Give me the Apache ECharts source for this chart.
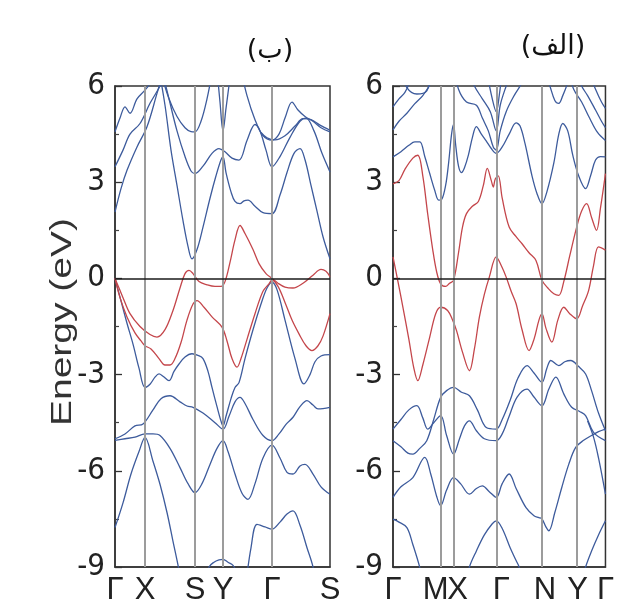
<!DOCTYPE html>
<html>
<head>
<meta charset="utf-8">
<script src="https://cdn.jsdelivr.net/npm/echarts@6/dist/echarts.min.js"></script>
<style>
  html, body { margin: 0; padding: 0; background: #fff; }
  #chart { width: 617px; height: 615px; }
</style>
</head>
<body>
<div id="chart"></div>
<script>
// k-path positions (left panel "ب", right panel "الف")
const leftTicks = [30, 80, 108, 157];
const leftLabelPos = [0, 30, 80, 108, 157, 215];
const leftLabels = ['Γ', 'X', 'S', 'Y', 'Γ', 'S'];
const rightTicks = [48, 61, 104, 150, 185];
const rightLabelPos = [0, 43, 65, 109, 153, 186, 214];
const rightLabels = ['Γ', 'M', 'X', 'Γ', 'N', 'Y', 'Γ'];
const energyTicks = [-9, -6, -3, 0, 3, 6];

// ---- left panel (ب) : conduction bands (blue)
const lC1 = [[0,2.07],[6,2.8],[12,3.37],[22,4.1],[32,4.73],[42,5.77],[48,6.4]];
const lC1b = [[44,6.5],[50,5.4],[56,4.0],[62,2.9],[68,1.8],[73,1.0],[77,0.61],[82,0.9],[88,1.6],[95,2.5],[101,3.2],[106,3.7],[108,3.8],[111,3.3],[116,2.7],[120,2.4],[125,2.33],[129,2.42],[133,2.44],[140,2.25],[148,2.05],[157,2.02],[165,2.6],[172,3.3],[179,3.9],[185,4.05],[190,3.7],[196,2.9],[202,2.1],[208,1.3],[215,0.61]];
const lC2 = [[0,3.48],[8,4.0],[15,4.5],[25,4.83],[35,5.46],[45,6.0],[50,6.4]];
const lC2b = [[47,6.5],[54,5.6],[62,4.6],[70,3.8],[76,3.35],[80,3.27],[88,3.5],[97,3.9],[104,4.05],[110,3.95],[117,3.75],[124,3.69],[132,4.3],[140,4.8],[145,4.6],[151,4.0],[157,3.48],[165,3.8],[175,4.4],[185,4.9],[191,5.0],[199,4.6],[207,3.9],[215,3.32]];
const lC3 = [[0,4.57],[5,5.0],[10,5.35],[15,5.15],[22,5.6],[30,5.87],[38,6.2],[42,6.5]];
const lC3b = [[45,6.5],[54,5.6],[62,5.05],[70,4.7],[76,4.58],[80,4.57],[86,4.9],[92,5.6],[97,6.4]];
const lC3c = [[102,6.5],[105,5.5],[108,4.6],[111,5.3],[116,6.5]];
const lC4 = [[126,6.5],[132,5.7],[140,4.95],[148,4.45],[157,4.31],[164,4.5],[170,5.0],[177,5.5],[183,5.25],[190,5.05],[198,4.9],[206,4.7],[215,4.57]];
const lC5 = [[146,4.55],[152,4.38],[160,4.32],[170,4.45],[180,4.75],[188,4.98],[196,4.95],[205,4.78],[215,4.62]];

// ---- left panel (ب) : bands near the Fermi level (red)
const lRA = [[0,0],[8,-0.6],[15,-1.1],[25,-1.5],[35,-1.75],[42,-1.83],[50,-1.6],[58,-1.0],[65,-0.3],[70,0.15],[74,0.25],[78,0.15],[84,-0.1],[92,-0.2],[100,-0.25],[106,-0.25],[110,-0.1],[115,0.5],[120,1.2],[125,1.65],[130,1.4],[138,0.9],[144,0.46],[151,0.15],[157,0],[163,-0.15],[170,-0.27],[178,-0.3],[188,-0.15],[198,0.1],[206,0.28],[211,0.22],[215,0.05]];
const lRB = [[0,0],[5,-0.6],[12,-1.2],[20,-1.7],[26,-1.95],[30,-2.1],[36,-2.2],[44,-2.5],[50,-2.7],[55,-2.7],[60,-2.5],[66,-2.0],[72,-1.3],[78,-0.8],[82,-0.69],[89,-0.9],[97,-1.2],[107,-1.52],[112,-1.95],[117,-2.5],[122,-2.77],[126,-2.5],[132,-1.9],[140,-1.1],[148,-0.4],[154,-0.17],[157,-0.05],[163,-0.25],[170,-0.75],[177,-1.3],[184,-1.73],[191,-2.1],[197,-2.25],[203,-2.1],[208,-1.8],[215,-1.1]];

// ---- left panel (ب) : valence bands (blue)
const lV1 = [[0,0],[6,-0.7],[12,-1.4],[18,-2.05],[24,-2.8],[30,-3.4],[35,-3.3],[40,-3.08],[44,-2.98],[48,-3.05],[54,-3.19],[59,-2.9],[64,-2.67],[70,-2.45],[77,-2.35],[83,-2.4],[88,-2.5],[93,-2.9],[97,-3.4],[102,-4.0],[106,-4.45],[108,-4.6],[111,-4.3],[116,-3.75],[120,-3.4],[124,-3.25],[130,-2.5],[138,-1.6],[146,-0.8],[152,-0.3],[157,-0.12],[162,-0.35],[170,-1.3],[180,-2.5],[189,-3.29],[195,-3.0],[200,-2.6],[206,-2.42],[215,-2.38]];
const lV2 = [[0,-5.0],[10,-4.85],[20,-4.6],[28,-4.54],[38,-4.1],[46,-3.75],[55,-3.66],[65,-3.85],[72,-3.98],[78,-4.02],[88,-4.2],[100,-4.5],[108,-4.7],[114,-4.3],[120,-3.85],[125,-3.71],[130,-3.9],[138,-4.4],[148,-4.9],[157,-5.06],[164,-4.85],[171,-4.55],[178,-4.33],[185,-4.0],[192,-3.81],[198,-3.95],[203,-4.07],[215,-4.02]];
const lV3 = [[0,-5.05],[10,-5.0],[20,-4.95],[30,-4.85],[38,-4.85],[45,-4.9],[55,-5.3],[65,-5.9],[73,-6.4],[80,-6.68],[87,-6.4],[95,-5.8],[102,-5.3],[108,-5.06],[113,-5.4],[120,-6.1],[127,-6.7],[133,-6.89],[140,-6.4],[148,-5.6],[157,-5.2],[165,-5.6],[172,-6.05],[178,-6.1],[185,-5.85],[190,-5.8],[198,-6.1],[206,-6.5],[215,-6.73]];
const lV4 = [[0,-7.77],[8,-7.0],[16,-6.1],[24,-5.4],[30,-4.96],[38,-5.7],[45,-6.42],[52,-7.3],[58,-8.2],[64,-9.1],[66,-9.5]];
const lV5 = [[90,-9.5],[94,-9.0],[99,-8.85],[104,-8.78],[108,-8.76],[113,-8.85],[118,-8.95],[122,-9.2],[124,-9.5]];
const lV6 = [[131,-9.5],[136,-8.4],[142,-7.67],[150,-7.75],[157,-7.82],[165,-7.6],[172,-7.35],[178,-7.25],[185,-7.7],[192,-8.4],[198,-9.0],[200,-9.5]];

// ---- right panel (الف) : conduction bands (blue)
const rC1 = [[0,3.79],[8,3.95],[16,4.15],[22,4.26],[27,4.26],[32,3.8],[37,3.27],[42,2.75],[46,2.44],[49,2.46],[53,2.9],[56,3.6],[59,4.5],[61,4.8],[63,4.2],[66,3.5],[69,3.3],[72,3.45],[76,3.85],[80,4.4],[84,4.73],[89,4.5],[94,4.28],[99,4.05],[104,3.9],[110,4.1],[117,4.5],[124,4.85],[128,4.75],[133,4.2],[140,3.2],[145,2.65],[150,2.33],[155,2.7],[162,3.6],[167,4.5],[171,4.83],[176,4.6],[181,3.85],[187,3.2],[194,2.8],[199,3.2],[204,3.69],[209,3.8],[214,3.79]];
const rC2 = [[0,4.63],[6,4.9],[14,5.15],[22,5.45],[30,5.7],[38,6.1],[42,6.5]];
const rC3 = [[0,5.35],[6,5.6],[12,5.8],[18,6.2],[22,6.5]];
const rC4 = [[8,6.5],[14,5.95],[24,5.75],[34,5.85],[40,6.5]];
const rC5 = [[62,6.5],[66,5.9],[74,5.5],[84,5.4],[90,5.0],[96,4.6],[101,4.1],[104,4.0],[108,4.6],[114,5.2],[122,5.7],[130,6.1],[136,6.5]];
const rC6 = [[76,6.5],[82,6.0],[90,5.6],[98,5.2],[104,4.6],[108,5.4],[114,6.0],[120,6.5]];
const rC7 = [[94,6.5],[100,5.6],[104,5.2],[107,5.7],[110,6.5]];
const rC8 = [[152,6.5],[158,6.0],[163,5.55],[167,5.46],[171,5.7],[176,6.1],[180,6.5]];
const rC9 = [[176,6.5],[182,5.9],[190,5.5],[198,5.0],[206,4.55],[214,4.3]];
const rC10 = [[184,6.5],[190,6.0],[196,5.7],[204,5.25],[210,4.9],[214,4.7]];
const rC11 = [[196,6.5],[204,5.9],[210,5.5],[214,5.3]];

// ---- right panel (الف) : bands near the Fermi level (red)
const rRA = [[0,2.95],[6,3.05],[12,3.4],[20,3.75],[25,3.84],[30,3.2],[35,2.0],[40,0.9],[44,0.2],[48,-0.17],[53,-0.25],[57,-0.15],[61,-0.06],[66,0.8],[70,1.6],[74,2.02],[80,2.25],[86,2.4],[91,2.9],[95,3.43],[99,3.05],[101,2.85],[103,3.1],[106,3.2],[110,2.5],[117,1.6],[124,1.3],[130,1.08],[137,0.8],[144,0.56],[150,-0.06],[156,-0.3],[162,-0.48],[167,-0.53],[172,-0.1],[178,0.7],[185,1.6],[190,2.1],[195,2.33],[200,1.9],[205,1.5],[209,2.2],[214,3.27]];
const rRB = [[0,0.67],[5,-0.1],[10,-0.9],[16,-1.9],[21,-2.8],[25,-3.19],[30,-2.7],[37,-1.83],[43,-1.1],[48,-0.9],[55,-1.0],[60,-1.3],[64,-1.63],[70,-2.3],[77,-2.88],[82,-2.2],[87,-1.21],[92,-0.5],[97,0.04],[104,0.67],[109,0.4],[114,0.04],[119,-0.4],[124,-0.79],[130,-1.6],[137,-2.25],[142,-1.9],[147,-1.3],[150,-1.1],[154,-1.55],[160,-1.99],[166,-1.3],[172,-0.9],[178,-1.1],[185,-1.26],[191,-0.85],[197,-0.38],[202,0.4],[207,0.98],[214,0.88]];

// ---- right panel (الف) : valence bands (blue)
const rV1 = [[0,-5.06],[8,-5.25],[15,-5.45],[20,-5.48],[27,-5.3],[34,-5.06],[41,-4.4],[48,-3.71],[54,-3.5],[61,-3.4],[69,-3.55],[77,-3.66],[85,-4.1],[94,-4.65],[104,-4.7],[110,-4.4],[118,-3.8],[126,-3.1],[135,-2.72],[142,-2.95],[150,-3.24],[155,-2.8],[159,-2.56],[167,-2.72],[173,-2.6],[179,-2.56],[187,-2.75],[194,-2.98],[200,-3.5],[207,-4.2],[214,-4.75]];
const rV2 = [[0,-4.7],[8,-4.4],[16,-4.1],[24,-3.97],[30,-4.35],[35,-4.7],[41,-4.5],[48,-4.28],[54,-4.9],[61,-5.48],[67,-5.0],[72,-4.6],[77,-4.44],[84,-4.75],[92,-5.0],[104,-5.06],[110,-4.85],[117,-4.3],[125,-3.7],[135,-3.45],[142,-3.7],[150,-3.97],[157,-3.45],[164,-3.08],[172,-3.6],[180,-4.02],[188,-4.15],[194,-4.28],[202,-4.8],[214,-5.06]];
const rV3 = [[0,-6.83],[8,-6.5],[20,-6.21],[32,-5.58],[38,-6.1],[44,-6.8],[48,-7.09],[54,-6.6],[61,-6.21],[68,-6.4],[77,-6.73],[84,-6.55],[90,-6.47],[97,-6.65],[104,-6.83],[110,-6.4],[117,-6.1],[124,-6.55],[134,-7.15],[142,-7.4],[147,-7.46],[150,-7.5],[154,-7.75],[157,-7.87],[163,-7.3],[170,-6.52],[177,-5.8],[184,-5.27],[192,-5.05],[200,-4.9],[207,-4.78],[214,-4.7]];
const rV4 = [[196,-4.45],[202,-4.95],[207,-5.6],[214,-6.73]];
const rV5 = [[0,-7.51],[6,-7.6],[14,-7.77],[20,-8.3],[27,-9.02],[30,-9.5]];
const rV6 = [[74,-9.5],[77,-9.0],[84,-8.5],[92,-8.0],[100,-7.65],[104,-7.56],[110,-7.8],[118,-8.4],[124,-8.8],[127,-9.0],[130,-9.5]];
const rV7 = [[190,-9.5],[194,-9.0],[200,-8.5],[207,-8.0],[214,-7.56]];

const leftBlue = [lC1, lC1b, lC2, lC2b, lC3, lC3b, lC3c, lC4, lC5, lV1, lV2, lV3, lV4, lV5, lV6];
const leftRed = [lRA, lRB];
const rightBlue = [rC1, rC2, rC3, rC4, rC5, rC6, rC7, rC8, rC9, rC10, rC11, rV1, rV2, rV3, rV4, rV5, rV6, rV7];
const rightRed = [rRA, rRB];

const BLUE = '#3d5b9c';
const RED = '#c4464b';
const tickFont = '"Liberation Sans Narrow", "DejaVu Sans Condensed", "Liberation Sans", sans-serif';

function band(data, color, idx) {
  return {
    type: 'line',
    xAxisIndex: idx,
    yAxisIndex: idx,
    data: data,
    smooth: 0.35,
    showSymbol: false,
    clip: true,
    z: 3,
    lineStyle: { color: color, width: 1.3 }
  };
}

function guides(ticks, idx) {
  return {
    type: 'line',
    xAxisIndex: idx,
    yAxisIndex: idx,
    data: [],
    z: 1,
    markLine: {
      silent: true,
      symbol: 'none',
      animation: false,
      label: { show: false },
      data: ticks.map(k => ({ xAxis: k, lineStyle: { color: '#9c9c9c', width: 2, type: 'solid' } }))
        .concat([{ yAxis: 0, lineStyle: { color: '#1a1a1a', width: 1.6, type: 'solid' } }])
    }
  };
}

function xAxis(idx, max, pos, names) {
  return {
    type: 'value',
    gridIndex: idx,
    min: 0,
    max: max,
    axisLine: { show: true, onZero: false, lineStyle: { color: '#333', width: 1.5 } },
    axisTick: { show: false },
    splitLine: { show: false },
    axisLabel: {
      customValues: pos,
      formatter: v => names[pos.indexOf(v)],
      color: '#222',
      fontFamily: '"Liberation Sans", Arial, sans-serif',
      fontSize: 31,
      margin: 8
    }
  };
}

function yAxis(idx) {
  return {
    type: 'value',
    gridIndex: idx,
    min: -9,
    max: 6,
    interval: 3,
    axisLine: { show: true, lineStyle: { color: '#333', width: 1.5 } },
    axisTick: { show: true, inside: true, length: 7, lineStyle: { color: '#333', width: 1.3 } },
    minorTick: { show: true, splitNumber: 2, length: 4, lineStyle: { color: '#444', width: 1.2 } },
    splitLine: { show: false },
    axisLabel: {
      customValues: energyTicks,
      color: '#222',
      fontFamily: tickFont,
      fontSize: 31,
      margin: 10
    }
  };
}

const chart = echarts.init(document.getElementById('chart'));

const series = [guides(leftTicks, 0), guides(rightTicks, 1)]
  .concat(leftBlue.map(d => band(d, BLUE, 0)))
  .concat(leftRed.map(d => band(d, RED, 0)))
  .concat(rightBlue.map(d => band(d, BLUE, 1)))
  .concat(rightRed.map(d => band(d, RED, 1)));

chart.setOption({
  backgroundColor: '#fff',
  animation: false,
  grid: [
    { left: 115, top: 86, width: 215, height: 481, show: true, borderColor: '#333', borderWidth: 1.5, backgroundColor: 'transparent' },
    { left: 393, top: 86, width: 214, height: 481, show: true, borderColor: '#333', borderWidth: 1.5, backgroundColor: 'transparent' }
  ],
  xAxis: [
    xAxis(0, 215, leftLabelPos, leftLabels),
    xAxis(1, 214, rightLabelPos, rightLabels)
  ],
  yAxis: [yAxis(0), yAxis(1)],
  graphic: [
    {
      type: 'text',
      x: 63, y: 322,
      rotation: Math.PI / 2,
      scaleX: 1.3,
      style: {
        text: 'Energy (eV)',
        fill: '#333',
        font: '30px "Liberation Sans", Arial, sans-serif',
        align: 'center',
        verticalAlign: 'middle'
      }
    },
    {
      type: 'text',
      x: 270, y: 51,
      style: {
        text: '(ب)',
        fill: '#111',
        font: '27px "DejaVu Sans", sans-serif',
        align: 'center',
        verticalAlign: 'middle'
      }
    },
    {
      type: 'text',
      x: 553, y: 47,
      style: {
        text: '(الف)',
        fill: '#111',
        font: '27px "DejaVu Sans", sans-serif',
        align: 'center',
        verticalAlign: 'middle'
      }
    }
  ],
  series: series
});
</script>
</body>
</html>
